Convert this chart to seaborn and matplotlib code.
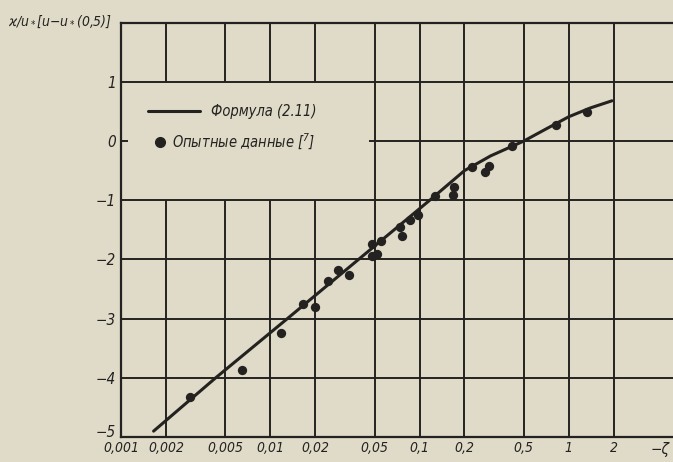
import matplotlib
matplotlib.use("Agg")
import matplotlib.pyplot as plt
from matplotlib.ticker import NullLocator
from matplotlib.transforms import ScaledTranslation
import seaborn as sns


###########################
# Data

# Опытные данные [7]
zeta_exp = [0.00289, 0.00645, 0.0118, 0.0166, 0.0200, 0.0243, 0.0286, 0.0335,
            0.0482, 0.0482, 0.0518, 0.0548, 0.0735, 0.0758, 0.0857, 0.0975,
            0.1266, 0.167, 0.171, 0.225, 0.276, 0.294, 0.414, 0.821, 1.336]
u_exp = [-4.33, -3.87, -3.24, -2.75, -2.80, -2.37, -2.18, -2.26,
         -1.74, -1.95, -1.91, -1.68, -1.45, -1.60, -1.33, -1.25,
         -0.92, -0.91, -0.77, -0.44, -0.53, -0.43, -0.08, 0.27, 0.49]

# Формула (2.11)
zeta_f = [0.00165, 0.0043, 0.013, 0.039, 0.117, 0.2, 0.3, 0.5, 0.7, 1.0, 1.4, 1.95]
u_f = [-4.90, -4.0, -3.0, -2.0, -1.0, -0.5, -0.25, 0.0, 0.2, 0.41, 0.56, 0.68]

xticks = [0.001, 0.002, 0.005, 0.01, 0.02, 0.05, 0.1, 0.2, 0.5, 1, 2]
xticklabels = ["0,001", "0,002", "0,005", "0,01", "0,02", "0,05", "0,1", "0,2", "0,5", "1", "2"]
yticks = [-5, -4, -3, -2, -1, 0, 1]
yticklabels = ["−5", "−4", "−3", "−2", "−1", "0", "1"]


###########################
# Style
bg = "#dfdbc8"
ink = "#242220"
sns.set_style("white")
plt.rcParams['font.family'] = ['DejaVu Sans']
plt.rcParams['font.style'] = 'italic'
plt.rcParams['font.stretch'] = 'condensed'

fig, ax = plt.subplots(figsize=(6.73, 4.62), dpi=100)
fig.patch.set_facecolor(bg)
ax.set_facecolor(bg)
fig.subplots_adjust(left=0.18, right=1.0, bottom=0.054, top=0.951)

ax.set_xscale('log')
ax.set_xlim(0.001, 5)
ax.set_ylim(-5, 2)

# grid, with the legend corner left blank
for xv in xticks[1:]:
    if xv < 0.05:
        ax.vlines(xv, -5, -1, color=ink, lw=1.4, zorder=1)
        ax.vlines(xv, 1, 2, color=ink, lw=1.4, zorder=1)
    else:
        ax.vlines(xv, -5, 2, color=ink, lw=1.4, zorder=1)
for yv in [-4, -3, -2, -1, 1]:
    ax.hlines(yv, 0.001, 5, color=ink, lw=1.4, zorder=1)
ax.hlines(0, 0.046, 5, color=ink, lw=1.4, zorder=1)
ax.hlines(0, 0.001, 0.00112, color=ink, lw=1.4, zorder=1)

sns.lineplot(x=zeta_f, y=u_f, color=ink, lw=2.2, sort=False, ax=ax, zorder=3)
sns.scatterplot(x=zeta_exp, y=u_exp, color=ink, s=45, edgecolor=ink, linewidth=0,
                ax=ax, zorder=4)

ax.set_xticks(xticks)
ax.set_xticklabels(xticklabels, fontsize=10)
ax.xaxis.set_minor_locator(NullLocator())
ax.set_yticks(yticks)
ax.set_yticklabels(yticklabels, fontsize=11)
ax.tick_params(length=0, pad=4, colors=ink)
ax.tick_params(axis='x', pad=3)
ax.set_xlabel("")
ax.set_ylabel("")

# the "-5" sits a little higher than the axis line in the original
lbl = ax.get_yticklabels()[0]
lbl.set_transform(lbl.get_transform() + ScaledTranslation(0, 4 / 72, fig.dpi_scale_trans))

for side in ['top', 'left', 'bottom']:
    ax.spines[side].set_color(ink)
    ax.spines[side].set_linewidth(1.6)
ax.spines['right'].set_visible(False)

# legend drawn by hand, as in the original
ax.plot([0.049, 0.143], [0.786, 0.786], color=ink, lw=2.2, transform=ax.transAxes)
ax.text(0.163, 0.786, "Формула (2.11)", transform=ax.transAxes, va='center',
        fontsize=10.5, color=ink)
ax.plot([0.0705], [0.712], 'o', color=ink, ms=7, transform=ax.transAxes)
ax.text(0.092, 0.712, "Опытные данные [$^7$]", transform=ax.transAxes, va='center',
        fontsize=10.5, color=ink)

fig.text(0.166, 0.952, "ϰ/u$_*$[u−u$_*$(0,5)]", ha='right', va='center',
         fontsize=10, color=ink)
fig.text(0.981, 0.026, "−ζ", ha='center', va='center', fontsize=11, color=ink)

plt.savefig("out.png", dpi=100, facecolor=bg)
